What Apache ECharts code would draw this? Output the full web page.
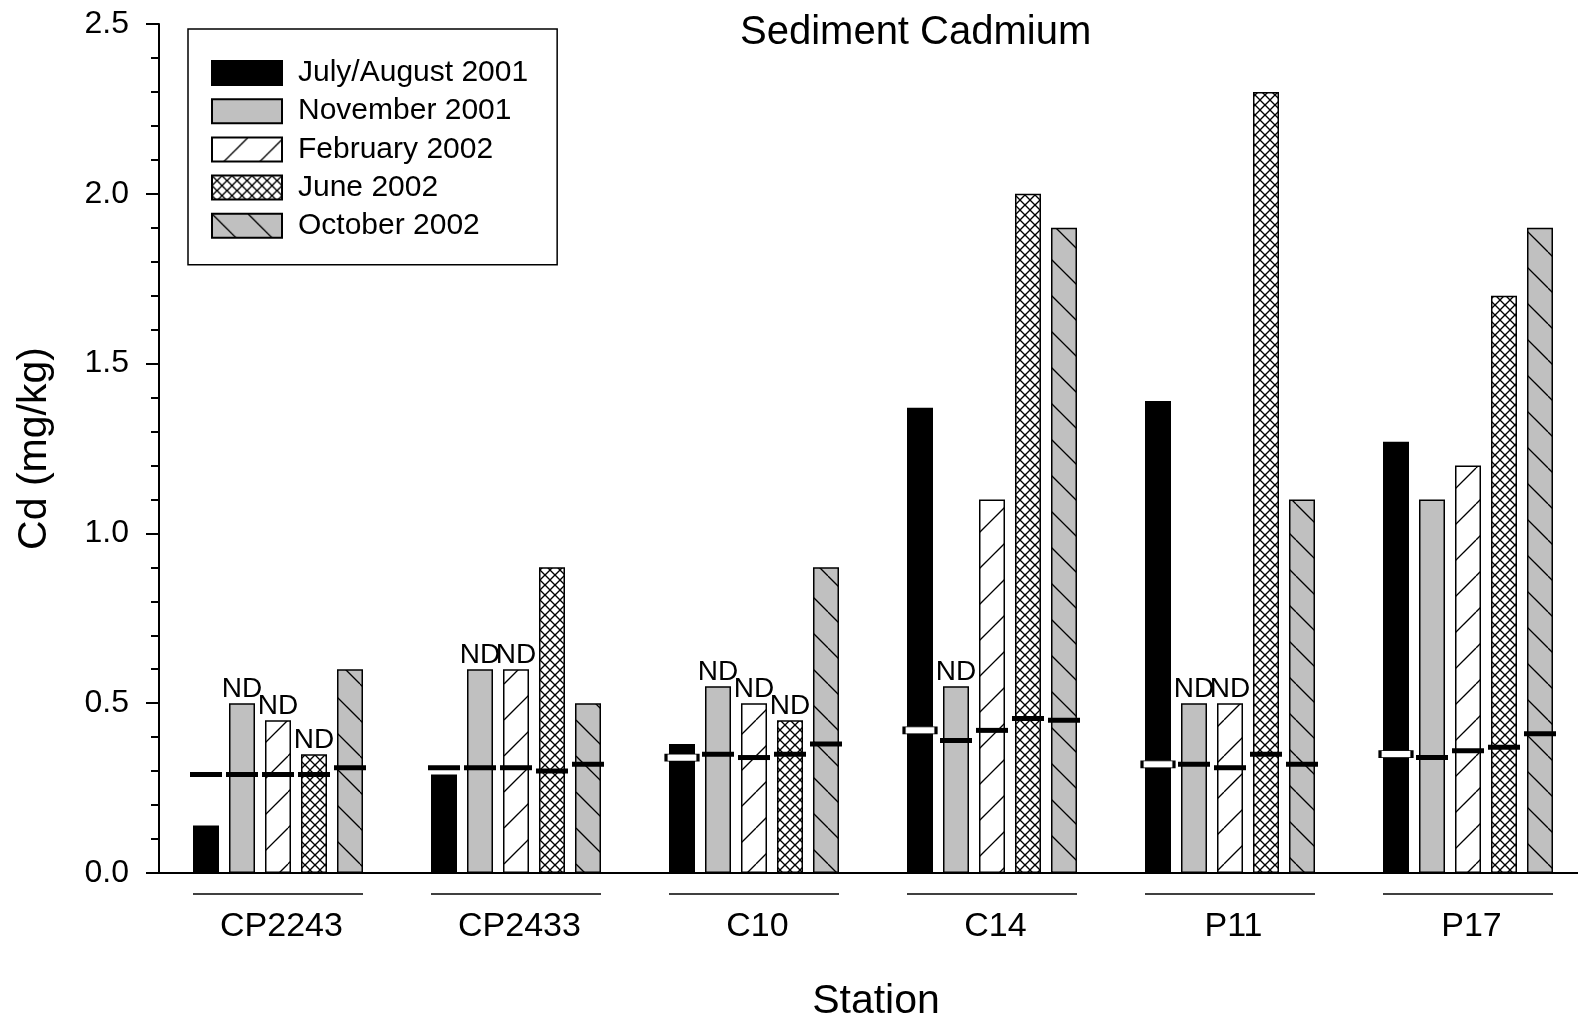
<!DOCTYPE html>
<html>
<head>
<meta charset="utf-8">
<script src="https://cdn.jsdelivr.net/npm/echarts@6/dist/echarts.min.js"></script>
<style>
html,body{margin:0;padding:0;background:#fff;}
#chart{width:1578px;height:1016px;}
</style>
</head>
<body>
<div id="chart"></div>
<script>
// ---- data ----
const stations = ['CP2243', 'CP2433', 'C10', 'C14', 'P11', 'P17'];
const seriesNames = ['July/August 2001', 'November 2001', 'February 2002', 'June 2002', 'October 2002'];
const yTicks = [0.0, 0.5, 1.0, 1.5, 2.0, 2.5];

const julAug2001 = [0.14, 0.29, 0.38, 1.37, 1.39, 1.27];
const nov2001    = [0.50, 0.60, 0.55, 0.55, 0.50, 1.10];
const feb2002    = [0.45, 0.60, 0.50, 1.10, 0.50, 1.20];
const jun2002    = [0.35, 0.90, 0.45, 2.00, 2.30, 1.70];
const oct2002    = [0.60, 0.50, 0.90, 1.90, 1.10, 1.90];

// reporting limit markers
const julAug2001Lim = [0.29, 0.31, 0.34, 0.42, 0.32, 0.35];
const nov2001Lim    = [0.29, 0.31, 0.35, 0.39, 0.32, 0.34];
const feb2002Lim    = [0.29, 0.31, 0.34, 0.42, 0.31, 0.36];
const jun2002Lim    = [0.29, 0.30, 0.35, 0.455, 0.35, 0.37];
const oct2002Lim    = [0.31, 0.32, 0.38, 0.45, 0.32, 0.41];

// "ND" flags (not detected)
const julAug2001ND = [0, 0, 0, 0, 0, 0];
const nov2001ND    = [1, 1, 1, 1, 1, 0];
const feb2002ND    = [1, 1, 1, 0, 1, 0];
const jun2002ND    = [1, 0, 1, 0, 0, 0];
const oct2002ND    = [0, 0, 0, 0, 0, 0];

// ---- styling ----
const FONT = '"Liberation Sans", Arial, Helvetica, sans-serif';
const GRAY = '#c0c0c0';

function hatch(bg, dirs, P, lw) {
  const c = document.createElement('canvas');
  c.width = P; c.height = P;
  const g = c.getContext('2d');
  g.fillStyle = bg; g.fillRect(0, 0, P, P);
  g.strokeStyle = '#000'; g.lineWidth = lw;
  dirs.forEach(d => {
    for (let k = -1; k <= 1; k++) {
      g.beginPath();
      if (d === '/') { g.moveTo(k * P, P); g.lineTo(k * P + P, 0); }
      else { g.moveTo(k * P, 0); g.lineTo(k * P + P, P); }
      g.stroke();
    }
  });
  return { image: c, repeat: 'repeat' };
}

const fills = [
  '#000000',
  GRAY,
  hatch('#ffffff', ['/'], 36, 1.3),
  hatch('#ffffff', ['/', '\\'], 10, 1.3),
  hatch(GRAY, ['\\'], 36, 1.3)
];

function barSeries(idx, values, limits, nd) {
  const isBlack = idx === 0;
  return {
    type: 'bar',
    name: seriesNames[idx],
    barWidth: 26,
    barGap: '38.46%',
    emphasis: { disabled: true },
    itemStyle: { color: fills[idx], borderColor: '#000', borderWidth: 1.5 },
    data: values.map((v, i) => ({
      value: v,
      label: {
        show: !!nd[i], formatter: 'ND', position: 'top', distance: 0,
        color: '#000', fontSize: 28, fontFamily: FONT
      }
    })),
    markPoint: {
      symbol: 'rect',
      silent: true,
      animation: false,
      label: { show: false },
      data: limits.map((l, i) => {
        const inside = isBlack && l < values[i];
        return {
          coord: [stations[i], l],
          symbolSize: inside ? [32, 7] : [32, 5],
          itemStyle: inside
            ? { color: '#fff', borderColor: '#000', borderWidth: 1.5 }
            : { color: '#000', borderWidth: 0 }
        };
      })
    }
  };
}

const chart = echarts.init(document.getElementById('chart'), null, { renderer: 'canvas' });

const option = {
  animation: false,
  backgroundColor: '#fff',
  textStyle: { fontFamily: FONT, color: '#000' },
  title: {
    text: 'Sediment Cadmium',
    left: 740, top: 13, padding: 0,
    textStyle: { fontSize: 40, fontWeight: 'normal', color: '#000', fontFamily: FONT }
  },
  legend: {
    data: seriesNames,
    orient: 'vertical',
    left: 188, top: 29,
    padding: [29, 29, 24, 23],
    itemWidth: 70, itemHeight: 24, itemGap: 8.2,
    icon: 'rect',
    borderColor: '#000', borderWidth: 1.5,
    backgroundColor: '#fff',
    selectedMode: false,
    textStyle: { fontSize: 30, color: '#000', fontFamily: FONT, padding: [0, 0, 0, 11] }
  },
  grid: { left: 159, width: 1428, top: 24, bottom: 143, containLabel: false, outerBoundsMode: 'none' },
  xAxis: {
    type: 'category',
    data: stations,
    name: 'Station',
    nameLocation: 'middle',
    nameGap: 108,
    nameTextStyle: { fontSize: 41, color: '#000', fontFamily: FONT, padding: [0, 0, 0, 6] },
    axisLine: { show: true, lineStyle: { color: '#000', width: 2 } },
    axisTick: { show: false },
    axisLabel: { interval: 0, margin: 37, fontSize: 34, color: '#000', fontFamily: FONT, padding: [0, 0, 0, 7] },
    splitLine: { show: false }
  },
  yAxis: {
    type: 'value',
    min: yTicks[0], max: yTicks[yTicks.length - 1], interval: 0.5,
    name: 'Cd (mg/kg)',
    nameLocation: 'middle',
    nameGap: 104,
    nameTextStyle: { fontSize: 41, color: '#000', fontFamily: FONT },
    axisLine: { show: true, lineStyle: { color: '#000', width: 2 } },
    axisTick: { show: true, length: 13, lineStyle: { color: '#000', width: 2 } },
    minorTick: { show: true, splitNumber: 5, length: 8, lineStyle: { color: '#000', width: 2 } },
    axisLabel: { margin: 30, fontSize: 32, color: '#000', fontFamily: FONT, formatter: v => v.toFixed(1) },
    splitLine: { show: false },
    minorSplitLine: { show: false }
  },
  series: [
    barSeries(0, julAug2001, julAug2001Lim, julAug2001ND),
    barSeries(1, nov2001, nov2001Lim, nov2001ND),
    barSeries(2, feb2002, feb2002Lim, feb2002ND),
    barSeries(3, jun2002, jun2002Lim, jun2002ND),
    barSeries(4, oct2002, oct2002Lim, oct2002ND),
    {
      type: 'custom',
      name: 'groupLine',
      silent: true,
      clip: false,
      data: stations.map((s, i) => [i, 0]),
      renderItem: function (params, api) {
        const p = api.coord([api.value(0), 0]);
        const half = 85;
        return {
          type: 'line',
          shape: { x1: p[0] - half, y1: p[1] + 21, x2: p[0] + half, y2: p[1] + 21 },
          style: { stroke: '#000', lineWidth: 1.5 }
        };
      }
    }
  ]
};

chart.setOption(option);
</script>
</body>
</html>
